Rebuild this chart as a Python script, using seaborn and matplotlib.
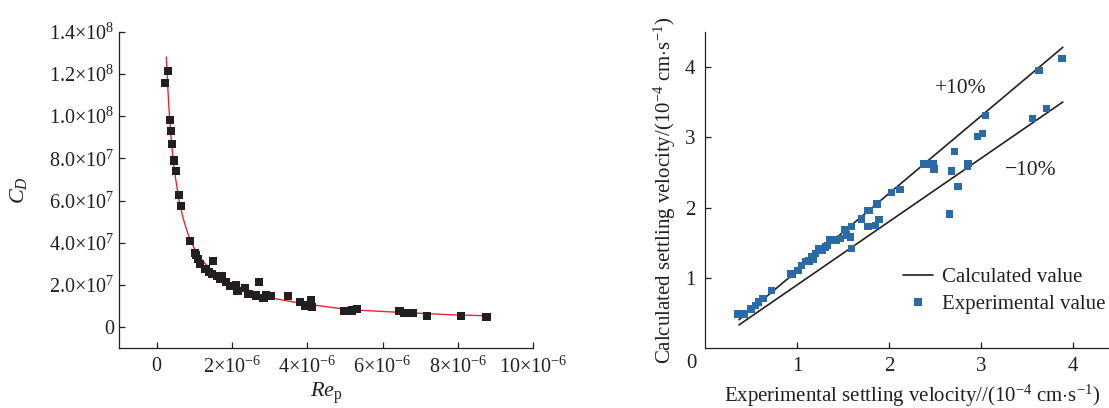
import matplotlib
matplotlib.use("Agg")
import matplotlib.pyplot as plt
from matplotlib.lines import Line2D
import pandas as pd
import seaborn as sns

# left panel: drag coefficient vs particle Reynolds number
# Re_p in units of 1e-6, C_D in units of 1e7
rep_e6 = [0.23, 0.30, 0.35, 0.39, 0.42, 0.46, 0.51, 0.59, 0.64, 0.89,
          1.01, 1.04, 1.11, 1.16, 1.30, 1.39, 1.50, 1.47, 1.61, 1.74,
          1.68, 1.84, 1.96, 2.10, 2.15, 2.34, 2.44, 2.63, 2.72, 2.84,
          2.91, 3.05, 3.49, 3.81, 3.95, 4.11, 4.12, 4.99, 5.18, 5.33,
          6.45, 6.56, 6.70, 6.82, 7.18, 8.09, 8.76]
cd_e7 = [11.55, 12.12, 9.81, 9.30, 8.70, 7.90, 7.41, 6.25, 5.73, 4.10,
         3.53, 3.40, 3.24, 3.01, 2.77, 2.61, 3.12, 2.50, 2.41, 2.41,
         2.29, 2.14, 1.95, 1.98, 1.71, 1.87, 1.58, 1.50, 2.14, 1.39,
         1.50, 1.46, 1.46, 1.19, 1.03, 1.27, 0.95, 0.76, 0.79, 0.87,
         0.76, 0.66, 0.68, 0.68, 0.55, 0.51, 0.47]

# fitted curve
fit_rep_e6 = [0.26, 0.30, 0.35, 0.40, 0.45, 0.50, 0.60, 0.70, 0.80, 0.90,
              1.0, 1.2, 1.5, 2.0, 2.5, 3.0, 3.8, 5.1, 6.5, 7.8, 8.8]
fit_cd_e7 = [12.8, 11.3, 9.8, 8.7, 7.8, 7.1, 6.0, 5.2, 4.6, 4.1,
             3.75, 3.2, 2.6, 2.05, 1.64, 1.4, 1.14, 0.83, 0.70, 0.59, 0.54]

left_yticks = [0, 2, 4, 6, 8, 10, 12, 14]
left_ylabels = ["0", r"$2.0{\times}10^{7}$", r"$4.0{\times}10^{7}$", r"$6.0{\times}10^{7}$",
                r"$8.0{\times}10^{7}$", r"$1.0{\times}10^{8}$", r"$1.2{\times}10^{8}$",
                r"$1.4{\times}10^{8}$"]
left_xticks = [0, 2, 4, 6, 8, 10]
left_xlabels = ["0", r"$2{\times}10^{-6}$", r"$4{\times}10^{-6}$", r"$6{\times}10^{-6}$",
                r"$8{\times}10^{-6}$", r"$10{\times}10^{-6}$"]

# right panel: settling velocity, units 1e-4 cm/s
exp_v = [0.35, 0.40, 0.43, 0.50, 0.55, 0.58, 0.63, 0.72, 0.935, 0.95,
         1.01, 1.05, 1.09, 1.13, 1.16, 1.18, 1.20, 1.24, 1.28, 1.31,
         1.33, 1.36, 1.40, 1.43, 1.47, 1.52, 1.54, 1.58, 1.59, 1.59,
         1.70, 1.77, 1.79, 1.77, 1.87, 1.85, 1.89, 2.03, 2.12, 2.38,
         2.42, 2.48, 2.49, 2.66, 2.68, 2.71, 2.75, 2.85, 2.86, 2.96,
         3.02, 3.05, 3.56, 3.63, 3.71, 3.88]
calc_v = [0.49, 0.48, 0.49, 0.56, 0.61, 0.66, 0.71, 0.82, 1.06, 1.05,
          1.11, 1.18, 1.23, 1.24, 1.30, 1.27, 1.35, 1.42, 1.39, 1.44,
          1.46, 1.54, 1.55, 1.53, 1.56, 1.68, 1.61, 1.58, 1.73, 1.42,
          1.84, 1.96, 1.96, 1.73, 2.05, 1.75, 1.83, 2.21, 2.26, 2.62,
          2.62, 2.63, 2.55, 1.91, 2.52, 2.80, 2.30, 2.58, 2.63, 3.01,
          3.05, 3.31, 3.27, 3.95, 3.41, 4.12]
band_x = [0.37, 3.89]
band_factors = [1.1, 0.9]

sns.set_style("ticks")
plt.rcParams["font.family"] = ["Liberation Serif", "DejaVu Serif"]
plt.rcParams["mathtext.fontset"] = "custom"
plt.rcParams["mathtext.rm"] = "Liberation Serif"
plt.rcParams["mathtext.it"] = "Liberation Serif:italic"
plt.rcParams["axes.linewidth"] = 0.9

fig = plt.figure(figsize=(11.09, 4.08), dpi=100)
ax1 = fig.add_axes([0.1072, 0.1463, 0.3736, 0.776])
ax2 = fig.add_axes([0.6357, 0.1463, 0.3733, 0.776])

black = "#231f20"
blue = "#2a6aa6"

# left
sns.lineplot(x=fit_rep_e6, y=fit_cd_e7, ax=ax1, color="#e8262d", lw=1.0, sort=False)
sns.scatterplot(x=rep_e6, y=cd_e7, ax=ax1, marker="s", s=34, color=black,
                edgecolor="none", zorder=3)
ax1.set_xlim(-1, 10)
ax1.set_ylim(-1, 14)
ax1.set_xticks(left_xticks)
ax1.set_xticklabels(left_xlabels)
ax1.set_yticks(left_yticks)
ax1.set_yticklabels(left_ylabels)
ax1.set_xlabel(r"$Re_{\rm p}$", fontsize=16, labelpad=2, color=black)
ax1.set_ylabel(r"$C_D$", fontsize=16, labelpad=14, color=black)
sns.despine(ax=ax1)

# right
df = pd.DataFrame({"exp": exp_v, "calc": calc_v})
for f in band_factors:
    sns.lineplot(x=band_x, y=[f * v for v in band_x], ax=ax2, color=black, lw=1.2)
sns.scatterplot(data=df, x="exp", y="calc", ax=ax2, marker="s", s=28, color=blue,
                edgecolor="none", zorder=3)
ax2.set_xlim(0, 4.5)
ax2.set_ylim(0, 4.5)
ax2.set_xticks([1, 2, 3, 4])
ax2.set_yticks([1, 2, 3, 4])
ax2.annotate("0", xy=(0, 0), xytext=(-10, -11), textcoords="offset points",
             ha="center", va="center", fontsize=15, color=black)
ax2.text(2.78, 3.69, "+10%", ha="center", va="center", fontsize=15.5, color=black)
ax2.text(3.54, 2.53, "\u221210%", ha="center", va="center", fontsize=15.5, color=black)
ax2.set_xlabel(r"Experimental settling velocity//(10$^{-4}$ cm$\cdot$s$^{-1}$)",
               fontsize=15, labelpad=5, color=black)
ax2.set_ylabel(r"Calculated settling velocity/(10$^{-4}$ cm$\cdot$s$^{-1}$)",
               fontsize=15, labelpad=5, color=black)
sns.despine(ax=ax2)

handles = [Line2D([], [], color=black, lw=1.2),
           Line2D([], [], color=blue, marker="s", ls="none", markersize=5.5,
                  markeredgewidth=0)]
leg = ax2.legend(handles, ["Calculated value", "Experimental value"], loc="center left",
                 bbox_to_anchor=(0.478, 0.182), frameon=False, fontsize=15,
                 handlelength=1.45, handletextpad=0.45, labelspacing=0.35,
                 borderpad=0, borderaxespad=0)
for t in leg.get_texts():
    t.set_color(black)

ax1.tick_params(direction="in", length=4, width=0.9, labelsize=14.5, colors=black)
ax1.tick_params(axis="x", pad=6)
ax2.tick_params(direction="in", length=4, width=0.9, labelsize=15, colors=black)
ax2.tick_params(axis="x", pad=6)
ax2.tick_params(axis="y", pad=7)
for ax in (ax1, ax2):
    for sp in ax.spines.values():
        sp.set_color(black)

fig.savefig("out.png", dpi=100)
